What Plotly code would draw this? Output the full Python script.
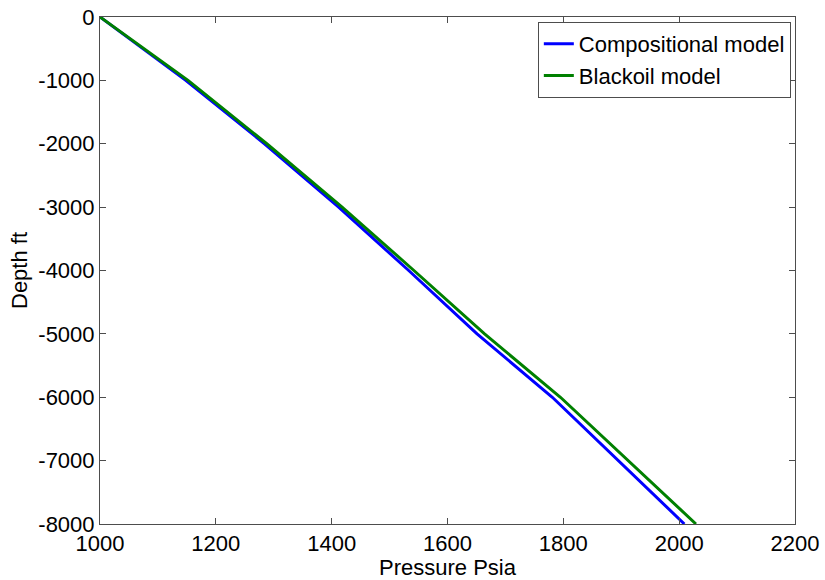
import plotly.graph_objects as go

# Depth (ft) and pressure (psia) at each survey level
depth_ft = [0, -1000, -2000, -3000, -4000, -5000, -6000, -7000, -8000]
p_compositional = [1000, 1148, 1284, 1412, 1533, 1651, 1781, 1895, 2009]
p_blackoil = [1000, 1152, 1288, 1418, 1542, 1664, 1795, 1912, 2029]

x_ticks = [1000, 1200, 1400, 1600, 1800, 2000, 2200]
y_ticks = [0, -1000, -2000, -3000, -4000, -5000, -6000, -7000, -8000]
y_tick_text = [str(v) for v in y_ticks]

font_family = "Liberation Sans, Arial, sans-serif"
axis_color = "#4d4d4d"

fig = go.Figure()
fig.add_trace(go.Scatter(x=p_compositional, y=depth_ft, mode="lines",
                         name="Compositional model",
                         line=dict(color="#0000ff", width=3)))
fig.add_trace(go.Scatter(x=p_blackoil, y=depth_ft, mode="lines",
                         name="Blackoil model",
                         line=dict(color="#008000", width=3)))

axis_common = dict(
    showgrid=False, zeroline=False, showline=True, linecolor=axis_color,
    linewidth=1, mirror="ticks", ticks="inside", ticklen=6,
    tickcolor=axis_color, tickwidth=1, automargin=False,
    tickfont=dict(family=font_family, size=22, color="#000000"),
)

fig.update_layout(
    width=825, height=580,
    margin=dict(l=100, r=30, t=17, b=56),
    paper_bgcolor="white", plot_bgcolor="white",
    font=dict(family=font_family, size=22, color="#000000"),
    xaxis=dict(range=[1000, 2200], tickvals=x_ticks,
               title=dict(text="Pressure Psia", standoff=0,
                          font=dict(family=font_family, size=22)),
               **axis_common),
    yaxis=dict(range=[-8000, 0], tickvals=y_ticks, ticktext=y_tick_text,
               title=dict(text="Depth ft", standoff=4,
                          font=dict(family=font_family, size=22)),
               **axis_common),
    legend=dict(x=0.994, y=0.99, xanchor="right", yanchor="top",
                bgcolor="white", bordercolor=axis_color, borderwidth=1,
                font=dict(family=font_family, size=22),
                itemwidth=30, tracegroupgap=0),
    showlegend=True,
)

fig.write_html("out.html")
